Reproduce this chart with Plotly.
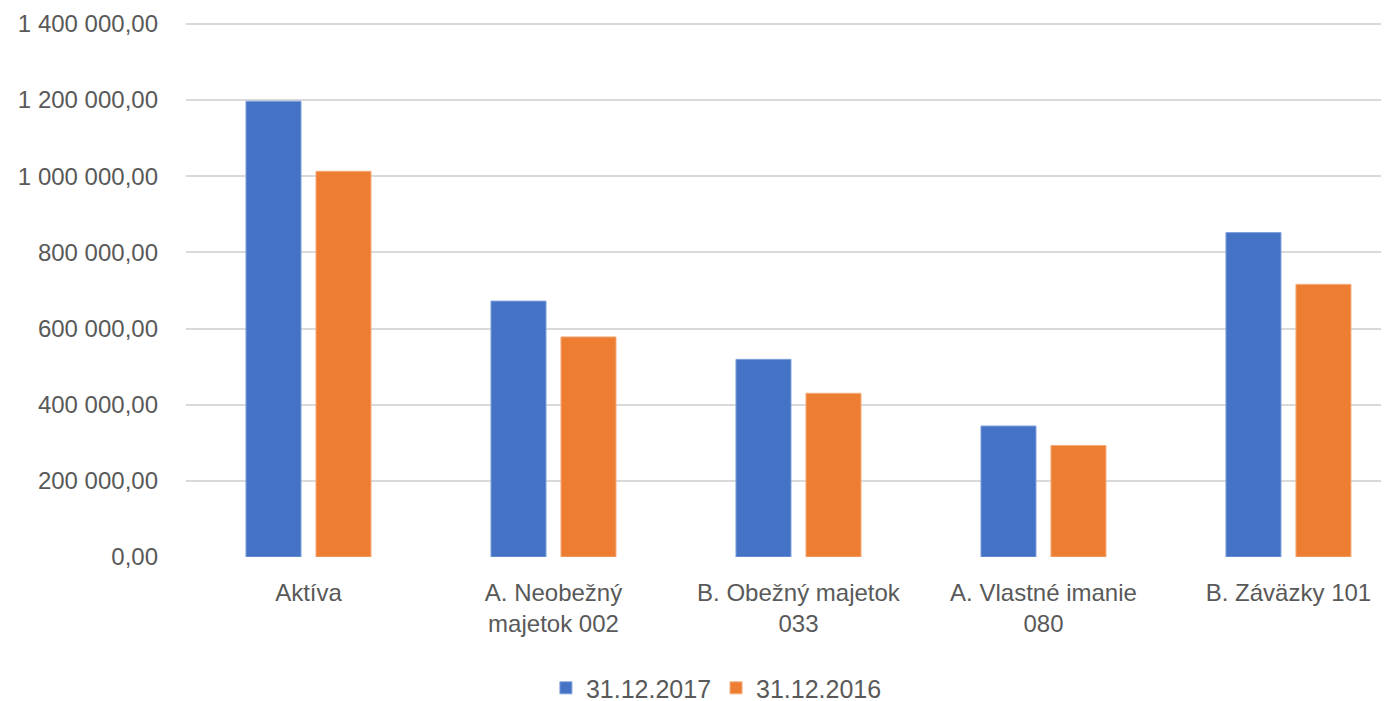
import plotly.graph_objects as go

categories = ["Aktíva", "A. Neobežný<br>majetok 002", "B. Obežný majetok<br>033",
              "A. Vlastné imanie<br>080", "B. Záväzky 101"]
values_2017 = [1197000, 672000, 519000, 344000, 852000]
values_2016 = [1013000, 578000, 430000, 293000, 716000]
series_names = ["31.12.2017", "31.12.2016"]
tick_vals = [0, 200000, 400000, 600000, 800000, 1000000, 1200000, 1400000]
tick_text = ["0,00", "200 000,00", "400 000,00", "600 000,00", "800 000,00",
             "1 000 000,00", "1 200 000,00", "1 400 000,00"]

font_family = "Liberation Sans, Arial, sans-serif"
text_color = "#595959"

fig = go.Figure()
fig.add_trace(go.Bar(x=categories, y=values_2017, name=series_names[0],
                     marker=dict(color="#4472C4", line=dict(color="#7FA0DC", width=1))))
fig.add_trace(go.Bar(x=categories, y=values_2016, name=series_names[1],
                     marker=dict(color="#ED7D31", line=dict(color="#F4AC7E", width=1))))

fig.update_layout(
    width=1389, height=701,
    margin=dict(l=178, r=0, t=14, b=152, autoexpand=False),
    paper_bgcolor="white", plot_bgcolor="white",
    barmode="group", bargap=0.4286, bargroupgap=0.214,
    font=dict(family=font_family, color=text_color, size=24),
    showlegend=True,
    legend=dict(orientation="h", x=0.438, xanchor="center", y=-0.245, yanchor="middle",
                font=dict(size=25, color=text_color), itemwidth=30, traceorder="normal"),
)
fig.update_xaxes(range=[-0.5, 4.443], showgrid=False, showline=False, zeroline=False,
                 tickfont=dict(size=24, color=text_color), ticklabelstandoff=19)
fig.update_yaxes(range=[0, 1405000], tickvals=tick_vals, ticktext=tick_text,
                 showgrid=True, gridcolor="#D9D9D9", gridwidth=2, zeroline=False,
                 showline=False, tickfont=dict(size=24, color=text_color),
                 ticklabelstandoff=27)

fig.write_html("out.html")
